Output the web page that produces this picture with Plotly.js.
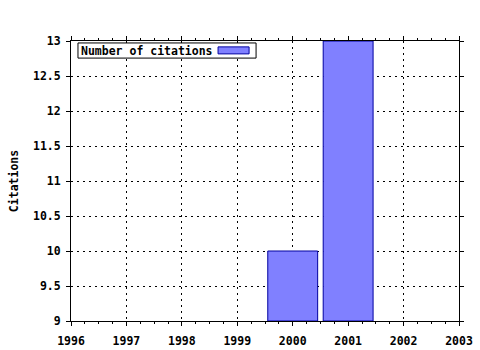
<!DOCTYPE html>
<html>
<head>
<meta charset="utf-8">
<script src="https://cdn.plot.ly/plotly-3.0.1.min.js"></script>
<style>html,body{margin:0;padding:0;background:#fff;}#chart{width:480px;height:350px;}</style>
</head>
<body>
<div id="chart"></div>
<script>
const years = [2000, 2001];
const citations = [10, 13];
const seriesName = 'Number of citations';
const yBase = 9;
const xTickVals = [1996, 1997, 1998, 1999, 2000, 2001, 2002, 2003];
const yTickVals = [9, 9.5, 10, 10.5, 11, 11.5, 12, 12.5, 13];
const yTickText = ['9', '9.5', '10', '10.5', '11', '11.5', '12', '12.5', '13'];

const FONT = {family: '"DejaVu Sans Mono", "Liberation Mono", monospace', size: 11.5, color: '#000', weight: 'bold'};

const trace = {
  type: 'bar',
  x: years,
  y: citations.map(v => v - yBase),
  base: yBase,
  width: 0.9,
  name: seriesName,
  marker: {color: '#8080ff', line: {color: '#0000a0', width: 1}},
  hoverinfo: 'skip'
};

const layout = {
  width: 480, height: 350,
  margin: {l: 71, r: 21, t: 41, b: 29, pad: 0},
  paper_bgcolor: '#fff', plot_bgcolor: '#fff',
  showlegend: false,
  font: FONT,
  xaxis: {
    range: [1996, 2003], tickvals: xTickVals, ticktext: xTickVals.map(String),
    showline: true, linecolor: '#000', linewidth: 1, mirror: 'ticks',
    ticks: 'outside', ticklen: 4, tickcolor: '#000', tickwidth: 1,
    showgrid: true, gridcolor: '#000', gridwidth: 1, griddash: '2px,4px',
    minor: {dtick: 0.25, tick0: 1996, ticks: 'outside', ticklen: 2, tickcolor: '#000', showgrid: false},
    zeroline: false, tickfont: FONT, ticklabelstandoff: 5
  },
  yaxis: {
    range: [9, 13], tickvals: yTickVals, ticktext: yTickText,
    showline: true, linecolor: '#000', linewidth: 1, mirror: 'ticks',
    ticks: 'outside', ticklen: 4, tickcolor: '#000', tickwidth: 1,
    showgrid: true, gridcolor: '#000', gridwidth: 1, griddash: '2px,4px',
    zeroline: false, tickfont: FONT, ticklabelstandoff: 3,
    title: {text: 'Citations', font: FONT, standoff: 11}
  },
  shapes: [
    {type: 'rect', xref: 'paper', yref: 'paper', x0: 0.018, x1: 0.477, y0: 0.939, y1: 0.993,
     line: {color: '#000', width: 1}, fillcolor: '#fff'},
    {type: 'rect', xref: 'paper', yref: 'paper', x0: 0.379, x1: 0.459, y0: 0.954, y1: 0.979,
     line: {color: '#0000a0', width: 1}, fillcolor: '#8080ff'}
  ],
  annotations: [
    {text: seriesName, xref: 'paper', yref: 'paper', x: 0.021, y: 0.966, xanchor: 'left', yanchor: 'middle',
     showarrow: false, font: FONT}
  ]
};

Plotly.newPlot('chart', [trace], layout, {displayModeBar: false, staticPlot: true});
</script>
</body>
</html>
